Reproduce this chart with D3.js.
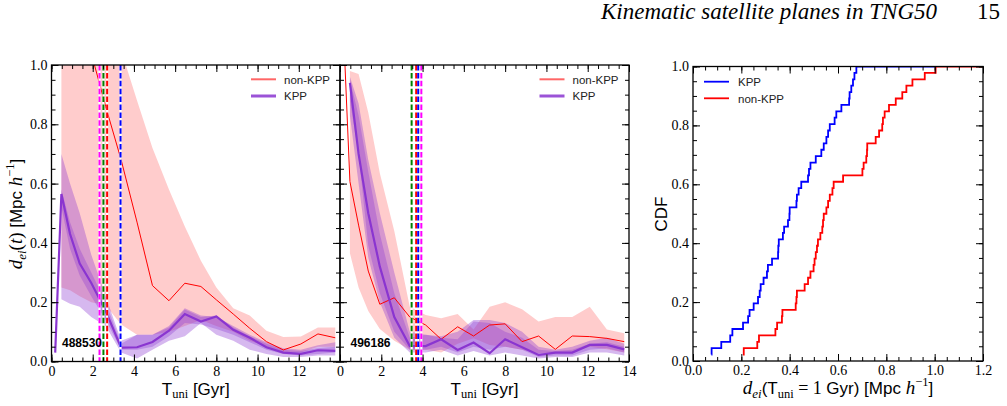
<!DOCTYPE html>
<html>
<head>
<meta charset="utf-8">
<script src="https://cdn.jsdelivr.net/npm/d3@7"></script>
<style>
  body { margin: 0; background: #fff; }
  svg { display: block; }
  .tick text { font-family: "Liberation Serif", serif; font-size: 14px; fill: #000; }
  .tick line { stroke: #000; stroke-width: 1; }
  .legend text { font-family: "Liberation Sans", Arial, sans-serif; font-size: 11.5px; fill: #222; }
</style>
</head>
<body>
<svg width="1007" height="406"></svg>
<script>
// snapshot times [Gyr]
const tGyr = [0.18, 0.48, 0.9, 1.37, 1.93, 2.63, 3.38, 4.15, 4.9, 5.7, 6.47, 7.25, 8.0, 8.82, 9.62, 10.43, 11.25, 12.1, 12.93, 13.77]

// halo 488530
const h1NonKpp     = [null, 1.4, 1.3, 1.2, 1.04, 0.86, 0.68, 0.47, 0.256, 0.205, 0.264, 0.253, 0.208, 0.16, 0.112, 0.067, 0.039, 0.059, 0.093, 0.08]
const h1NonKppHi   = [null, 1.5, 1.5, 1.5, 1.45, 1.3, 1.05, 0.88, 0.72, 0.58, 0.455, 0.34, 0.25, 0.18, 0.155, 0.104, 0.083, 0.084, 0.115, 0.115]
const h1NonKppLo   = [null, 0.25, 0.24, 0.22, 0.2, 0.19, 0.125, 0.09, 0.09, 0.1, 0.12, 0.14, 0.12, 0.1, 0.07, 0.05, 0.03, 0.03, 0.05, 0.05]
const h1Kpp        = [0.03, 0.565, 0.43, 0.33, 0.265, 0.17, 0.047, 0.048, 0.066, 0.104, 0.16, 0.135, 0.152, 0.107, 0.08, 0.048, 0.03, 0.026, 0.038, 0.036]
const h1KppOutHi   = [null, 0.70, 0.6, 0.5, 0.36, 0.22, 0.07, 0.09, 0.09, 0.12, 0.18, 0.155, 0.15, 0.12, 0.09, 0.065, 0.045, 0.04, 0.055, 0.065]
const h1KppOutLo   = [null, 0.21, 0.195, 0.185, 0.15, 0.12, 0.03, 0.01, 0.04, 0.07, 0.085, 0.13, 0.09, 0.07, 0.04, 0.025, 0.015, 0.015, 0.02, 0.02]
const h1KppInHi    = [null, 0.58, 0.47, 0.38, 0.3, 0.2, 0.06, 0.09, 0.09, 0.115, 0.175, 0.15, 0.155, 0.115, 0.085, 0.06, 0.04, 0.035, 0.045, 0.05]
const h1KppInLo    = [null, 0.52, 0.38, 0.29, 0.22, 0.14, 0.04, 0.04, 0.05, 0.085, 0.13, 0.125, 0.11, 0.09, 0.065, 0.04, 0.025, 0.02, 0.025, 0.03]
const h1Marks      = [{t: 2.33, c: "#ff00ff"}, {t: 2.52, c: "#008000"}, {t: 2.7, c: "#ff0000"}, {t: 3.35, c: "#0000ff"}]

// halo 496186
const h2NonKpp     = [1.1, 0.607, 0.46, 0.305, 0.193, 0.215, 0.15, 0.123, 0.075, 0.117, 0.086, 0.123, 0.127, 0.067, 0.086, 0.041, 0.086, 0.084, 0.078, 0.067]
const h2NonKppHi   = [null, 0.98, 0.97, 0.84, 0.635, 0.44, 0.185, 0.157, 0.146, 0.16, 0.108, 0.185, 0.2, 0.176, 0.135, 0.15, 0.15, 0.185, 0.108, 0.095]
const h2NonKppLo   = [null, 0.365, 0.25, 0.17, 0.11, 0.07, 0.04, 0.04, 0.03, 0.06, 0.078, 0.056, 0.05, 0.04, 0.028, 0.028, 0.033, 0.05, 0.041, 0.03]
const h2Kpp        = [null, 0.94, 0.70, 0.5, 0.32, 0.15, 0.052, 0.052, 0.075, 0.039, 0.064, 0.028, 0.075, 0.048, 0.022, 0.03, 0.03, 0.056, 0.056, 0.041]
const h2KppOutHi   = [null, 0.96, 0.87, 0.68, 0.5, 0.3, 0.1, 0.09, 0.085, 0.1, 0.14, 0.14, 0.13, 0.1, 0.05, 0.04, 0.05, 0.07, 0.08, 0.06]
const h2KppOutLo   = [null, 0.83, 0.6, 0.35, 0.2, 0.08, 0.03, 0.03, 0.04, 0.02, 0.035, 0.02, 0.03, 0.02, 0.01, 0.015, 0.015, 0.03, 0.03, 0.02]
const h2KppInHi    = [null, 0.95, 0.83, 0.64, 0.43, 0.23, 0.08, 0.09, 0.08, 0.075, 0.135, 0.13, 0.1, 0.08, 0.04, 0.035, 0.04, 0.06, 0.065, 0.05]
const h2KppInLo    = [null, 0.88, 0.7, 0.39, 0.23, 0.1, 0.04, 0.04, 0.05, 0.03, 0.05, 0.04, 0.05, 0.04, 0.015, 0.02, 0.02, 0.04, 0.045, 0.03]
const h2Marks      = [{t: 3.47, c: "#008000"}, {t: 3.69, c: "#ff0000"}, {t: 3.79, c: "#0000ff"}, {t: 3.94, c: "#ff00ff"}]

// CDF of d_ei at T_uni = 1 Gyr (sorted samples)
const cdfKpp = [0.076, 0.077, 0.117, 0.154, 0.163, 0.207, 0.228, 0.234, 0.251, 0.269, 0.276, 0.28, 0.292, 0.306, 0.31, 0.327,
  0.352, 0.353, 0.355, 0.372, 0.377, 0.393, 0.399, 0.4, 0.428, 0.43, 0.437, 0.448, 0.476, 0.48, 0.486, 0.508,
  0.531, 0.541, 0.552, 0.559, 0.566, 0.586, 0.593, 0.614, 0.646, 0.648, 0.655, 0.662, 0.668, 0.676]
const cdfNonKpp = [0.207, 0.21, 0.266, 0.273, 0.341, 0.348, 0.368, 0.37, 0.425, 0.428, 0.43, 0.462, 0.476, 0.486, 0.499, 0.503,
  0.508, 0.513, 0.517, 0.527, 0.535, 0.538, 0.541, 0.552, 0.559, 0.566, 0.577, 0.582, 0.621, 0.701, 0.706, 0.717,
  0.72, 0.721, 0.756, 0.77, 0.783, 0.786, 0.793, 0.811, 0.839, 0.866, 0.883, 0.908, 0.959, 1.004]
const cdfTailEnd = {kpp: 1.0, nonKpp: 1.2}

const xTicksTime = [0, 2, 4, 6, 8, 10, 12, 14]
const yTicks = [0, 0.2, 0.4, 0.6, 0.8, 1.0]
const xTicksCdf = [0, 0.2, 0.4, 0.6, 0.8, 1.0, 1.2]

const svg = d3.select("svg")
const red = "#ff0000", purple = "#8a35d0"
const ph = 296.5, pTop = 65

const panels = [
  {id: "488530", left: 51.5, w: 288.5, nk: h1NonKpp, nkHi: h1NonKppHi, nkLo: h1NonKppLo, k: h1Kpp,
   oHi: h1KppOutHi, oLo: h1KppOutLo, iHi: h1KppInHi, iLo: h1KppInLo, marks: h1Marks, xLabels: [0,2,4,6,8,10,12], yLabels: true},
  {id: "496186", left: 340, w: 289, nk: h2NonKpp, nkHi: h2NonKppHi, nkLo: h2NonKppLo, k: h2Kpp,
   oHi: h2KppOutHi, oLo: h2KppOutLo, iHi: h2KppInHi, iLo: h2KppInLo, marks: h2Marks, xLabels: xTicksTime, yLabels: false}
]

function frameAxes(g, x, y, w, h, xMajor, xMinor, yMajor, yMinor, xFmt, yFmt) {
  g.append("g").attr("transform", "translate(0," + h + ")")
    .call(d3.axisBottom(x).tickValues(xMinor).tickSize(-4).tickFormat(""))
  g.append("g").attr("transform", "translate(0," + h + ")")
    .call(d3.axisBottom(x).tickValues(xMajor).tickSize(-7).tickPadding(4.5).tickFormat(xFmt))
  g.append("g")
    .call(d3.axisTop(x).tickValues(xMinor).tickSize(-4).tickFormat(""))
  g.append("g")
    .call(d3.axisTop(x).tickValues(xMajor).tickSize(-7).tickFormat(""))
  g.append("g")
    .call(d3.axisLeft(y).tickValues(yMinor).tickSize(-4).tickFormat(""))
  g.append("g")
    .call(d3.axisLeft(y).tickValues(yMajor).tickSize(-7).tickPadding(4).tickFormat(yFmt))
  g.append("g").attr("transform", "translate(" + w + ",0)")
    .call(d3.axisRight(y).tickValues(yMinor).tickSize(-4).tickFormat(""))
  g.append("g").attr("transform", "translate(" + w + ",0)")
    .call(d3.axisRight(y).tickValues(yMajor).tickSize(-7).tickFormat(""))
  g.selectAll(".domain").remove()
  g.append("rect").attr("width", w).attr("height", h)
    .style("fill", "none").style("stroke", "#000").style("stroke-width", 1.3)
}

function richText(sel, parts) {
  let cur = 0
  parts.forEach(function (p) {
    let shift = p.shift || 0
    sel.append("tspan")
      .attr("dy", shift - cur)
      .style("font-family", p.serif ? "'Liberation Serif', serif" : "'Liberation Sans', Arial, sans-serif")
      .style("font-size", (p.size || 17) + "px")
      .style("font-style", p.italic ? "italic" : "normal")
      .text(p.t)
    cur = shift
  })
}

const minorTime = d3.range(0, 14.01, 0.5)
const minorY = d3.range(0, 1.001, 0.05)

panels.forEach(function (p, pi) {
  const g = svg.append("g").attr("transform", "translate(" + p.left + "," + pTop + ")")
  const x = d3.scaleLinear().domain([0, 14]).range([0, p.w])
  const y = d3.scaleLinear().domain([0, 1]).range([ph, 0])

  g.append("clipPath").attr("id", "clip" + pi)
    .append("rect").attr("width", p.w).attr("height", ph)
  const plot = g.append("g").attr("clip-path", "url(#clip" + pi + ")")

  const band = (hi, lo) => d3.area()
    .defined((d, i) => hi[i] != null && lo[i] != null)
    .x((d, i) => x(tGyr[i]))
    .y0((d, i) => y(lo[i]))
    .y1((d, i) => y(hi[i]))
  const line = arr => d3.line()
    .defined((d, i) => arr[i] != null)
    .x((d, i) => x(tGyr[i]))
    .y((d, i) => y(arr[i]))

  plot.append("path").attr("d", band(p.nkHi, p.nkLo)(tGyr)).style("fill", red).style("fill-opacity", 0.2)
  plot.append("path").attr("d", band(p.oHi, p.oLo)(tGyr)).style("fill", purple).style("fill-opacity", 0.35)
  plot.append("path").attr("d", band(p.iHi, p.iLo)(tGyr)).style("fill", purple).style("fill-opacity", 0.32)
  plot.append("path").attr("d", line(p.nk)(tGyr)).style("fill", "none").style("stroke", red).style("stroke-width", 1)
  plot.append("path").attr("d", line(p.k)(tGyr)).style("fill", "none").style("stroke", purple).style("stroke-width", 2.2)

  //infall markers, white under the dashes
  plot.selectAll(".markbg").data(p.marks).enter().append("line")
    .attr("x1", d => x(d.t)).attr("x2", d => x(d.t)).attr("y1", 0).attr("y2", ph)
    .style("stroke", "#fff").style("stroke-width", 2.2)
  plot.selectAll(".mark").data(p.marks).enter().append("line")
    .attr("x1", d => x(d.t)).attr("x2", d => x(d.t)).attr("y1", 0).attr("y2", ph)
    .style("stroke", d => d.c).style("stroke-width", 2).style("stroke-dasharray", "5.5,2.4")

  frameAxes(g, x, y, p.w, ph, p.xLabels, minorTime, yTicks, minorY,
    d3.format("d"), p.yLabels ? d3.format(".1f") : () => "")

  g.append("text").attr("x", 10.5).attr("y", ph - 14.5)
    .style("font-family", "'Liberation Sans', Arial, sans-serif").style("font-size", "12px")
    .style("font-weight", "bold").text(p.id)

  const leg = g.append("g").attr("class", "legend")
  leg.append("line").attr("x1", 199.5).attr("x2", 224.5).attr("y1", 14.3).attr("y2", 14.3)
    .style("stroke", red).style("stroke-width", 2).style("stroke-opacity", 0.6)
  leg.append("line").attr("x1", 199.5).attr("x2", 224.5).attr("y1", 31).attr("y2", 31)
    .style("stroke", purple).style("stroke-width", 3).style("stroke-opacity", 0.85)
  leg.append("text").attr("x", 232.5).attr("y", 18.5).text("non-KPP")
  leg.append("text").attr("x", 232.5).attr("y", 35.2).text("KPP")

  const xl = g.append("text").attr("x", p.w / 2).attr("y", 329.5).attr("text-anchor", "middle")
  richText(xl, [{t: "T"}, {t: "uni", serif: true, size: 12.5, shift: 3.5}, {t: " [Gyr]"}])
})

// y label of the time panels
const yl = svg.append("text").attr("transform", "translate(22,214) rotate(-90)").attr("text-anchor", "middle")
richText(yl, [{t: "d", serif: true, italic: true, size: 19}, {t: "ei", serif: true, italic: true, size: 13, shift: 3.5},
  {t: "(", serif: true, size: 19}, {t: "t", serif: true, italic: true, size: 19}, {t: ")", serif: true, size: 19},
  {t: " [Mpc "}, {t: "h", serif: true, italic: true, size: 19}, {t: "−1", serif: true, size: 12.5, shift: -8}, {t: "]"}])

// CDF panel
const cw = 290, cLeft = 693, cTop = 66.5, ch = 294.5
const gc = svg.append("g").attr("transform", "translate(" + cLeft + "," + cTop + ")")
const xc = d3.scaleLinear().domain([0, 1.2]).range([0, cw])
const yc = d3.scaleLinear().domain([0, 1]).range([ch, 0])

gc.append("clipPath").attr("id", "clipc").append("rect").attr("width", cw).attr("height", ch)
const plotc = gc.append("g").attr("clip-path", "url(#clipc)")

const stepLine = d3.line().x(d => xc(d[0])).y(d => yc(d[1])).curve(d3.curveStepAfter)
function cdfPoints(arr, tail) {
  let pts = arr.map((v, i) => [v, (i + 1) / arr.length])
  pts.push([tail, 1])
  return pts
}
plotc.append("path").attr("d", stepLine(cdfPoints(cdfNonKpp, cdfTailEnd.nonKpp)))
  .style("fill", "none").style("stroke", red).style("stroke-width", 1.8)
plotc.append("path").attr("d", stepLine(cdfPoints(cdfKpp, cdfTailEnd.kpp)))
  .style("fill", "none").style("stroke", "#0000ff").style("stroke-width", 1.8)

frameAxes(gc, xc, yc, cw, ch, xTicksCdf, d3.range(0, 1.2001, 0.05), yTicks, minorY,
  d3.format(".1f"), d3.format(".1f"))

const legc = gc.append("g").attr("class", "legend")
legc.append("line").attr("x1", 11).attr("x2", 36).attr("y1", 15.2).attr("y2", 15.2)
  .style("stroke", "#0000ff").style("stroke-width", 1.8)
legc.append("line").attr("x1", 11).attr("x2", 36).attr("y1", 31.8).attr("y2", 31.8)
  .style("stroke", red).style("stroke-width", 1.8)
legc.append("text").attr("x", 45).attr("y", 19.4).text("KPP")
legc.append("text").attr("x", 45).attr("y", 36).text("non-KPP")

const xlc = gc.append("text").attr("x", cw / 2).attr("y", 327.5).attr("text-anchor", "middle")
richText(xlc, [{t: "d", serif: true, italic: true, size: 19}, {t: "ei", serif: true, italic: true, size: 13, shift: 3.5},
  {t: "(T", shift: 0}, {t: "uni", serif: true, size: 12.5, shift: 3.5}, {t: " = 1 ", serif: true, size: 18, shift: 0},
  {t: "Gyr) [Mpc "}, {t: "h", serif: true, italic: true, size: 19}, {t: "−1", serif: true, size: 12.5, shift: -8}, {t: "]"}])

svg.append("text").attr("transform", "translate(667,214) rotate(-90)").attr("text-anchor", "middle")
  .style("font-family", "'Liberation Sans', Arial, sans-serif").style("font-size", "17px").text("CDF")

// running head
svg.append("text").attr("x", 937).attr("y", 19).attr("text-anchor", "end")
  .style("font-family", "'Liberation Serif', serif").style("font-style", "italic").style("font-size", "23px")
  .text("Kinematic satellite planes in TNG50")
svg.append("text").attr("x", 1000).attr("y", 19).attr("text-anchor", "end")
  .style("font-family", "'Liberation Serif', serif").style("font-size", "23px")
  .text("15")
</script>
</body>
</html>
